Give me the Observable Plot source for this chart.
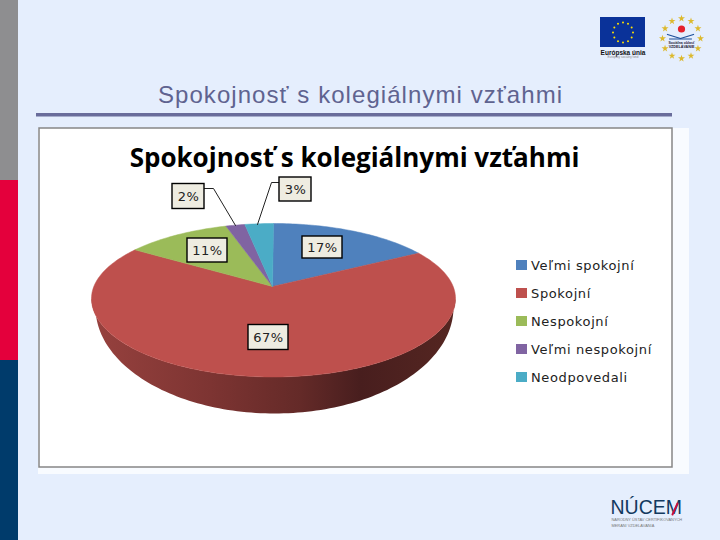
<!DOCTYPE html>
<html lang="sk"><head><meta charset="utf-8">
<script src="https://cdn.jsdelivr.net/npm/d3@7"></script>
<script src="https://cdn.jsdelivr.net/npm/@observablehq/plot@0.6"></script>
<style>
html,body{margin:0;padding:0;background:#e5eefd;overflow:hidden}
svg{display:block}
</style></head><body>
<script>
// Chart values
const categories = ["Veľmi spokojní","Spokojní","Nespokojní","Veľmi nespokojní","Neodpovedali"];
const shares = [17,67,11,2,3];
const sliceColors = ["#4f81bd","#be504d","#9bbb59","#8064a2","#4bacc6"];
const pctLabels = ["17%","67%","11%","2%","3%"];
const pctCenterX = [322,268,207,188,295];
const pctCenterY = [247,337,250,196,189];
const pctBoxW = [40,40,40,32,32];
const pctBoxH = [22,25,24,25,24];
const slideTitle = "Spokojnosť s kolegiálnymi vzťahmi";
const chartTitle = "Spokojnosť s kolegiálnymi vzťahmi";
const legendY = [265,293,321,349,377];
const wallStops = [[95,"#96413e"],[210,"#7d3432"],[300,"#642a28"],[360,"#481e1e"],[455,"#552621"]];

// 3-D pie geometry
const apex = [272,286], top_ = {x:273,y:298,rx:182,up:75,down:78.5}, base = {x:274,y:307,rx:179,ry:106}, K = .84;
const param = share => { let a = share/100*2*Math.PI; if (a>Math.PI) a -= 2*Math.PI; return 2*Math.atan(K*Math.tan(a/2)); };
const topPt = t => [top_.x+top_.rx*Math.sin(t), top_.y-(Math.cos(t)>0?top_.up:top_.down)*Math.cos(t)];
const basePt = t => [base.x+base.rx*Math.sin(t), base.y-base.ry*Math.cos(t)];
let cum = 0; const slicePts = [];
shares.forEach((v,i)=>{
  const s0 = cum, s1 = cum+v; cum = s1;
  slicePts.push({x:apex[0],y:apex[1],k:i,c:sliceColors[i]});
  const steps = Math.max(8,v*3);
  for (let j=0;j<=steps;j++){
    const s = s0+(s1-s0)*j/steps;
    const [x,y]=topPt(s===50?Math.PI:param(s)); slicePts.push({x,y,k:i,c:sliceColors[i]});
  }
  slicePts.push({x:apex[0],y:apex[1],k:i,c:sliceColors[i]});
});
const wallSteps = d3.range(0,121).map(i=>Math.PI/2+Math.PI*i/120);
const wallPts = [...wallSteps.map(topPt),...wallSteps.slice().reverse().map(basePt)].map(([x,y])=>({x,y}));
const wallGradient = () => {
  const ns = "http://www.w3.org/2000/svg";
  const defs = document.createElementNS(ns,"defs");
  const g = document.createElementNS(ns,"linearGradient");
  g.setAttribute("id","wall"); g.setAttribute("gradientUnits","userSpaceOnUse");
  g.setAttribute("x1",95); g.setAttribute("x2",455); g.setAttribute("y1",0); g.setAttribute("y2",0);
  wallStops.forEach(([x,c])=>{
    const s = document.createElementNS(ns,"stop");
    s.setAttribute("offset",(x-95)/360); s.setAttribute("stop-color",c); g.appendChild(s);
  });
  defs.appendChild(g); return defs;
};

// Logo pieces
const ring = (cx,cy,rx,ry,n)=>d3.range(n).map(i=>({x:cx+rx*Math.sin(i*2*Math.PI/n),y:cy-ry*Math.cos(i*2*Math.PI/n)}));
const bands = [[0,180,"#8e8e90"],[180,360,"#e4003c"],[360,540,"#003b6b"]];
const rects = [
  {x1:38,x2:689,y1:128,y2:474,f:"#f8fbff"},
  {x1:39,x2:672,y1:128,y2:467,f:"#ffffff"}
];
const tip2 = [[204,188],[213,188],[235,225]].map(([x,y])=>({x,y}));
const tip3 = [[279,182],[271,182],[257,224]].map(([x,y])=>({x,y}));
const book1 = [[667,34],[680,38],[693,34]].map(([x,y])=>({x,y}));
const book2 = [[669,38.5],[691,38.5]].map(([x,y])=>({x,y}));
const boxes = pctLabels.map((t,i)=>({t,x:pctCenterX[i],y:pctCenterY[i],w:pctBoxW[i],h:pctBoxH[i]}));
const legend = categories.map((name,i)=>({name,y:legendY[i],c:sliceColors[i]}));

const chart = Plot.plot({
  width:720,height:540,margin:0,
  x:{domain:[0,720],range:[0,720],axis:null},
  y:{domain:[0,540],range:[0,540],axis:null},
  color:{type:"identity"},
  style:{background:"#e5eefd"},
  marks:[
    wallGradient,
    Plot.rect(bands,{x1:()=>0,x2:()=>18,y1:d=>d[0],y2:d=>d[1],fill:d=>d[2]}),
    Plot.text([slideTitle],{x:()=>360,y:()=>95,text:d=>d,fontFamily:"Liberation Sans",fontSize:24,fill:"#5f6390"}),
    Plot.rect([0],{x1:()=>36,x2:()=>672,y1:()=>113,y2:()=>116.5,fill:"#696c9b"}),
    Plot.rect(rects,{x1:"x1",x2:"x2",y1:"y1",y2:"y2",fill:"f"}),
    Plot.rect([0],{x1:()=>39,x2:()=>672,y1:()=>128,y2:()=>467,fill:"none",stroke:"#868686",strokeWidth:1.5}),
    Plot.text([chartTitle],{x:()=>354,y:()=>158,text:d=>d,fontFamily:"Open Sans",fontWeight:700,fontSize:26,fill:"#000"}),
    Plot.line(wallPts,{x:"x",y:"y",fill:"url(#wall)",stroke:"none"}),
    Plot.line(slicePts,{x:"x",y:"y",z:"k",fill:"c",stroke:"c",strokeWidth:.5}),
    Plot.line(tip2,{x:"x",y:"y",stroke:"#222",strokeWidth:1}),
    Plot.line(tip3,{x:"x",y:"y",stroke:"#222",strokeWidth:1}),
    Plot.rect(boxes,{x1:d=>d.x-d.w/2,x2:d=>d.x+d.w/2,y1:d=>d.y-d.h/2,y2:d=>d.y+d.h/2,fill:"#eeece1",stroke:"#000",strokeWidth:1.4}),
    Plot.text(boxes,{x:"x",y:"y",text:"t",fontFamily:"DejaVu Sans",fontSize:13,fill:"#222"}),
    Plot.rect(legend,{x1:()=>516,x2:()=>527,y1:d=>d.y-5,y2:d=>d.y+5,fill:"c"}),
    Plot.text(legend,{x:()=>530.5,y:"y",text:"name",textAnchor:"start",fontFamily:"DejaVu Sans",fontSize:13,fill:"#222"}),
    // EU logo
    Plot.rect([0],{x1:()=>600,x2:()=>645,y1:()=>17,y2:()=>47,fill:"#0a3299"}),
    Plot.dot(ring(622.5,32,10,10,12),{x:"x",y:"y",r:1,fill:"#ffe100"}),
    Plot.text(["Európska únia"],{x:()=>622.5,y:()=>52,text:d=>d,fontFamily:"Liberation Sans",fontWeight:700,fontSize:6.5,fill:"#111"}),
    Plot.text(["Európsky sociálny fond"],{x:()=>622.5,y:()=>57,text:d=>d,fontFamily:"Liberation Sans",fontSize:3,fill:"#888"}),
    // Second logo
    Plot.dot(ring(681,38,19,20,12),{x:"x",y:"y",symbol:"star",r:2.2,fill:"#dcb92e"}),
    Plot.dot([{x:681,y:28.5}],{x:"x",y:"y",r:3.6,fill:"#e5202b"}),
    Plot.line(book1,{x:"x",y:"y",stroke:"#1c4f9a",strokeWidth:1.3}),
    Plot.line(book2,{x:"x",y:"y",stroke:"#1c4f9a",strokeWidth:1}),
    Plot.text(["Sociálna oblasť"],{x:()=>681,y:()=>42.5,text:d=>d,fontFamily:"Liberation Sans",fontWeight:700,fontSize:3.5,fill:"#223"}),
    Plot.text(["VZDELÁVANIE"],{x:()=>681,y:()=>46.5,text:d=>d,fontFamily:"Liberation Sans",fontWeight:700,fontSize:3.7,fill:"#223"}),
    // NÚCEM logo
    Plot.text(["NÚCEM"],{x:()=>610,y:()=>507,text:d=>d,textAnchor:"start",fontFamily:"Liberation Sans",fontSize:19.5,fill:"#12395f"}),
    Plot.line([{x:672,y:514},{x:677,y:503}],{x:"x",y:"y",stroke:"#c8103e",strokeWidth:2}),
    Plot.text(["NÁRODNÝ ÚSTAV CERTIFIKOVANÝCH"],{x:()=>611,y:()=>519.5,text:d=>d,textAnchor:"start",fontFamily:"Liberation Sans",fontSize:3.9,fill:"#777"}),
    Plot.text(["MERANÍ VZDELÁVANIA"],{x:()=>611,y:()=>525,text:d=>d,textAnchor:"start",fontFamily:"Liberation Sans",fontSize:3.9,fill:"#777"})
  ]
});
// Letter spacing of the text that the reference sets wide
const tracking = t => t===slideTitle ? "1.06px" : categories.includes(t) ? ".63px" : pctLabels.includes(t) ? ".5px" : null;
let titleSeen = false;
chart.querySelectorAll("text").forEach(el=>{
  const t = el.textContent;
  if (t===slideTitle) { if (titleSeen) return; titleSeen = true; }
  const s = tracking(t);
  if (s) el.style.letterSpacing = s;
});
document.body.appendChild(chart);
</script></body></html>
